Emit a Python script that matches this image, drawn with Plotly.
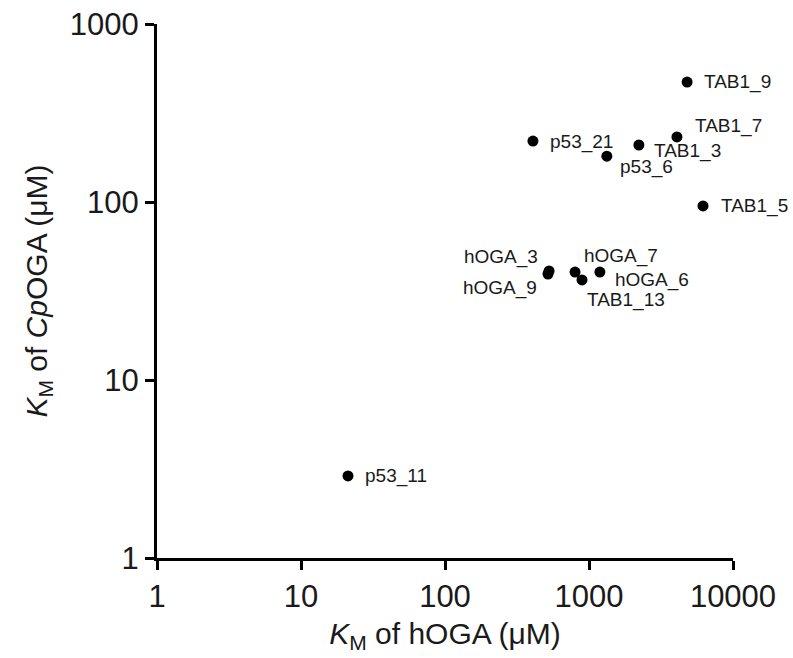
import plotly.graph_objects as go
import math

# ---- data ----
labels = ["TAB1_9", "TAB1_7", "p53_21", "TAB1_3", "p53_6", "TAB1_5",
          "hOGA_3", "hOGA_9", "hOGA_7", "TAB1_13", "hOGA_6", "p53_11"]
km_hoga = [4800, 4080, 408, 2220, 1330, 6190,
           528, 519, 800, 894, 1190, 21.2]
km_cpoga = [472, 232, 220, 209, 181, 95,
            41.0, 39.4, 40.4, 36.5, 40.4, 2.89]
tick_vals_x = [1, 10, 100, 1000, 10000]
tick_vals_y = [1, 10, 100, 1000]

# ---- label placement (style): xanchor, xshift, yshift ----
label_style = {
    "TAB1_9": ("left", 15, 0),
    "TAB1_7": ("left", 16, 11),
    "p53_21": ("left", 15, -1),
    "TAB1_3": ("left", 13, -6),
    "p53_6": ("left", 11, -11),
    "TAB1_5": ("left", 16, 0),
    "hOGA_3": ("right", -9, 14),
    "hOGA_9": ("right", -9, -14),
    "hOGA_7": ("left", 7, 16),
    "TAB1_13": ("left", 3, -20),
    "hOGA_6": ("left", 13, -8),
    "p53_11": ("left", 15, 0),
}

FONT = "Arial, 'Liberation Sans', sans-serif"
NARROW = "'Liberation Sans Narrow', 'Arial Narrow', Arial, sans-serif"

fig = go.Figure()
fig.add_trace(go.Scatter(
    x=km_hoga, y=km_cpoga, mode="markers",
    marker=dict(color="black", size=11, line=dict(width=0)),
    hovertext=labels, showlegend=False, cliponaxis=False,
))

for lab, xv, yv in zip(labels, km_hoga, km_cpoga):
    xa, xs, ys = label_style[lab]
    fig.add_annotation(
        x=math.log10(xv), y=math.log10(yv), xref="x", yref="y",
        text=lab, showarrow=False, xanchor=xa, yanchor="middle",
        xshift=xs, yshift=ys,
        font=dict(family=FONT, size=19, color="#1a1a1a"),
    )

axis_common = dict(
    type="log", showline=True, linewidth=3, linecolor="black",
    ticks="outside", ticklen=9, tickwidth=2.5, tickcolor="black",
    showgrid=False, zeroline=False, mirror=False, automargin=False,
    tickfont=dict(family=NARROW, size=31, color="#1a1a1a"),
)

fig.update_layout(
    width=793, height=658,
    margin=dict(l=157, r=60, t=24, b=100),
    paper_bgcolor="white", plot_bgcolor="white",
    xaxis=dict(
        range=[0, 4],
        tickvals=tick_vals_x, ticktext=[str(v) for v in tick_vals_x],
        title=dict(text="<i>K</i><sub>M</sub> of hOGA (\u03bcM)",
                   font=dict(family=FONT, size=30, color="#1a1a1a"),
                   standoff=10),
        **axis_common,
    ),
    yaxis=dict(
        range=[0, 3],
        tickvals=tick_vals_y, ticktext=[str(v) for v in tick_vals_y],
        title=dict(text="<i>K</i><sub>M</sub> of <i>Cp</i>OGA (\u03bcM)",
                   font=dict(family=FONT, size=30, color="#1a1a1a"),
                   standoff=14),
        **axis_common,
    ),
)

fig.write_html("out.html", post_script="document.body.style.margin='0';",
               config={"displayModeBar": False})
